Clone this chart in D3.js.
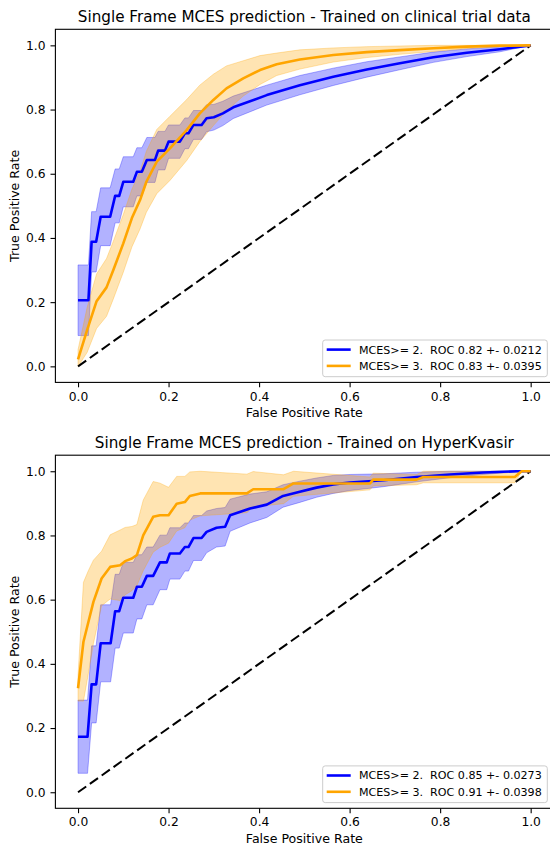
<!DOCTYPE html>
<html>
<head>
<meta charset="utf-8">
<script src="https://d3js.org/d3.v7.min.js"></script>
<style>
  body { margin: 0; background: #fff; }
  svg text { font-family: "DejaVu Sans", sans-serif; fill: #000; }
  .tick line { stroke: #000; stroke-width: 1.1; }
</style>
</head>
<body>
<script>
// ---- data ----
var titles = ["Single Frame MCES prediction - Trained on clinical trial data",
              "Single Frame MCES prediction - Trained on HyperKvasir"];
var legendTop = ["MCES>= 2.  ROC 0.82 +- 0.0212", "MCES>= 3.  ROC 0.83 +- 0.0395"];
var legendBottom = ["MCES>= 2.  ROC 0.85 +- 0.0273", "MCES>= 3.  ROC 0.91 +- 0.0398"];
var tickValues = [0, 0.2, 0.4, 0.6, 0.8, 1.0];

// clinical trial data, MCES >= 2 (mean tpr and std)
var fprBlueTop = [0, 0.023, 0.030, 0.040, 0.050, 0.071, 0.082, 0.091, 0.100, 0.122, 0.130, 0.141,
  0.152, 0.170, 0.177, 0.192, 0.200, 0.225, 0.236, 0.244, 0.255, 0.273, 0.284, 0.300, 0.320, 0.343,
  0.417, 0.490, 0.564, 0.638, 0.711, 0.785, 0.859, 0.932, 1.0];
var meanBlueTop = [0.206, 0.206, 0.388, 0.388, 0.466, 0.466, 0.531, 0.531, 0.575, 0.575, 0.606, 0.606,
  0.643, 0.643, 0.672, 0.672, 0.700, 0.700, 0.726, 0.726, 0.752, 0.752, 0.773, 0.776, 0.788, 0.807,
  0.845, 0.876, 0.902, 0.925, 0.944, 0.963, 0.977, 0.988, 1.0];
var sdBlueTop = [0.11, 0.11, 0.094, 0.094, 0.09, 0.09, 0.084, 0.084, 0.078, 0.078, 0.075, 0.075,
  0.07, 0.07, 0.06, 0.06, 0.052, 0.052, 0.048, 0.048, 0.045, 0.045, 0.042, 0.04, 0.038, 0.035,
  0.031, 0.03, 0.027, 0.024, 0.02, 0.016, 0.012, 0.008, 0];

// clinical trial data, MCES >= 3
var fprOrangeTop = [0, 0.020, 0.041, 0.063, 0.078, 0.100, 0.119, 0.137, 0.151, 0.174, 0.203, 0.240,
  0.269, 0.299, 0.328, 0.365, 0.402, 0.439, 0.490, 0.564, 0.638, 0.711, 0.785, 0.859, 0.932, 1.0];
var meanOrangeTop = [0.022, 0.113, 0.203, 0.246, 0.300, 0.383, 0.462, 0.518, 0.575, 0.638, 0.679, 0.736,
  0.788, 0.830, 0.866, 0.897, 0.923, 0.941, 0.956, 0.970, 0.979, 0.985, 0.991, 0.996, 0.999, 1.0];
var sdOrangeTop = [0.03, 0.07, 0.085, 0.09, 0.09, 0.09, 0.09, 0.09, 0.095, 0.10, 0.10, 0.095,
  0.088, 0.08, 0.07, 0.055, 0.045, 0.035, 0.03, 0.022, 0.017, 0.013, 0.01, 0.006, 0.003, 0];

// HyperKvasir, MCES >= 2
var fprBlueBottom = [0, 0.021, 0.030, 0.040, 0.050, 0.072, 0.082, 0.091, 0.100, 0.122, 0.130, 0.141,
  0.152, 0.166, 0.181, 0.196, 0.203, 0.225, 0.236, 0.244, 0.255, 0.273, 0.284, 0.306, 0.325, 0.336,
  0.380, 0.417, 0.453, 0.490, 0.527, 0.564, 0.601, 0.675, 0.748, 0.822, 0.895, 0.969, 1.0];
var meanBlueBottom = [0.173, 0.173, 0.336, 0.336, 0.464, 0.464, 0.564, 0.564, 0.606, 0.606, 0.640, 0.640,
  0.674, 0.674, 0.716, 0.716, 0.744, 0.744, 0.764, 0.764, 0.792, 0.792, 0.811, 0.824, 0.827, 0.863,
  0.884, 0.896, 0.923, 0.936, 0.949, 0.959, 0.965, 0.972, 0.982, 0.990, 0.996, 1.0, 1.0];
var sdBlueBottom = [0.114, 0.114, 0.12, 0.12, 0.12, 0.12, 0.115, 0.115, 0.11, 0.11, 0.10, 0.10,
  0.09, 0.09, 0.085, 0.085, 0.08, 0.08, 0.075, 0.075, 0.07, 0.07, 0.065, 0.06, 0.06, 0.05,
  0.045, 0.04, 0.035, 0.033, 0.03, 0.028, 0.025, 0.02, 0.015, 0.01, 0.006, 0.002, 0];

// HyperKvasir, MCES >= 3
var fprOrangeBottom = [0, 0.012, 0.023, 0.034, 0.052, 0.071, 0.093, 0.104, 0.119, 0.130, 0.144, 0.166,
  0.181, 0.200, 0.218, 0.236, 0.247, 0.270, 0.373, 0.387, 0.454, 0.476, 0.645, 0.652, 0.748, 0.763,
  0.965, 0.980, 1.0];
var meanOrangeBottom = [0.324, 0.469, 0.531, 0.593, 0.666, 0.702, 0.707, 0.720, 0.728, 0.739, 0.800, 0.858,
  0.863, 0.863, 0.899, 0.904, 0.923, 0.931, 0.931, 0.944, 0.944, 0.962, 0.962, 0.974, 0.974, 0.982,
  0.982, 1.0, 1.0];
var sdOrangeBottom = [0.04, 0.185, 0.16, 0.13, 0.085, 0.10, 0.11, 0.105, 0.10, 0.095, 0.11, 0.11,
  0.10, 0.087, 0.085, 0.08, 0.075, 0.07, 0.06, 0.055, 0.045, 0.04, 0.02, 0.02, 0.016, 0.018,
  0.018, 0, 0];

var width = 550, height = 847;
var svg = d3.select("body").append("svg")
    .attr("width", width)
    .attr("height", height);

function zipSeries(f, m, s) {
    return f.map(function(v, i) { return {f: v, m: m[i], s: s[i]}; });
}

function drawPanel(top, title, labels, blue, orange) {
    var left = 55.4, right = 553.3, bottom = top + 353.1;
    var x = d3.scaleLinear().domain([-0.05, 1.05]).range([left, right]);
    var y = d3.scaleLinear().domain([-0.05, 1.05]).range([bottom, top]);
    var g = svg.append("g");

    var area = d3.area()
        .x(function(d) { return x(d.f); })
        .y0(function(d) { return y(Math.max(d.m - d.s, 0)); })
        .y1(function(d) { return y(Math.min(d.m + d.s, 1)); });
    var line = d3.line()
        .x(function(d) { return x(d.f); })
        .y(function(d) { return y(d.m); });

    // bands first (matplotlib draws fills under lines)
    g.append("path").datum(blue).attr("d", area)
        .attr("fill", "rgba(0,0,255,0.3)").attr("stroke", "rgba(0,0,255,0.3)").attr("stroke-width", 1);
    g.append("path").datum(orange).attr("d", area)
        .attr("fill", "rgba(255,165,0,0.3)").attr("stroke", "rgba(255,165,0,0.3)").attr("stroke-width", 1);

    // chance diagonal
    g.append("line")
        .attr("x1", x(0)).attr("y1", y(0)).attr("x2", x(1)).attr("y2", y(1))
        .attr("stroke", "#000").attr("stroke-width", 2).attr("stroke-dasharray", "10,4.5");

    g.append("path").datum(blue).attr("d", line)
        .attr("fill", "none").attr("stroke", "#0000ff").attr("stroke-width", 2.6).attr("stroke-linejoin", "round");
    g.append("path").datum(orange).attr("d", line)
        .attr("fill", "none").attr("stroke", "#ffa500").attr("stroke-width", 2.6).attr("stroke-linejoin", "round");

    // axes
    var xAxis = g.append("g").attr("transform", "translate(0," + bottom + ")")
        .call(d3.axisBottom(x).tickValues(tickValues).tickFormat(d3.format(".1f"))
            .tickSize(4.9).tickPadding(4.5).tickSizeOuter(0));
    var yAxis = g.append("g").attr("transform", "translate(" + left + ",0)")
        .call(d3.axisLeft(y).tickValues(tickValues).tickFormat(d3.format(".1f"))
            .tickSize(4.9).tickPadding(4.9).tickSizeOuter(0));
    [xAxis, yAxis].forEach(function(a) {
        a.select(".domain").remove();
        a.selectAll("text").style("font-size", "12.3px").style("font-family", "DejaVu Sans, sans-serif").attr("fill", "#000");
    });

    g.append("rect")
        .attr("x", left).attr("y", top).attr("width", right - left).attr("height", bottom - top)
        .attr("fill", "none").attr("stroke", "#000").attr("stroke-width", 1.1);

    g.append("text").attr("x", (left + right) / 2).attr("y", top - 7.5)
        .attr("text-anchor", "middle").style("font-size", "15.2px").text(title);
    g.append("text").attr("x", (left + right) / 2).attr("y", bottom + 34.5)
        .attr("text-anchor", "middle").style("font-size", "12.6px").text("False Positive Rate");
    g.append("text").attr("transform", "translate(19," + (top + bottom) / 2 + ") rotate(-90)")
        .attr("text-anchor", "middle").style("font-size", "12.6px").text("True Positive Rate");

    // legend, lower right
    var lx = 322.7, ly = bottom - 42.4, lw = 224.6, lh = 36.7;
    var leg = g.append("g");
    leg.append("rect").attr("x", lx).attr("y", ly).attr("width", lw).attr("height", lh)
        .attr("rx", 2.5).attr("fill", "rgba(255,255,255,0.8)").attr("stroke", "#cccccc").attr("stroke-width", 1);
    var colors = ["#0000ff", "#ffa500"];
    labels.forEach(function(t, i) {
        var yy = ly + 9.6 + i * 16.3;
        leg.append("line").attr("x1", lx + 4).attr("x2", lx + 28).attr("y1", yy).attr("y2", yy)
            .attr("stroke", colors[i]).attr("stroke-width", 2.6);
        leg.append("text").attr("x", lx + 36.3).attr("y", yy).attr("dy", "0.36em")
            .style("font-size", "11.1px").style("white-space", "pre").text(t);
    });
}

drawPanel(29.3, titles[0], legendTop,
    zipSeries(fprBlueTop, meanBlueTop, sdBlueTop),
    zipSeries(fprOrangeTop, meanOrangeTop, sdOrangeTop));
drawPanel(455.2, titles[1], legendBottom,
    zipSeries(fprBlueBottom, meanBlueBottom, sdBlueBottom),
    zipSeries(fprOrangeBottom, meanOrangeBottom, sdOrangeBottom));
</script>
</body>
</html>
